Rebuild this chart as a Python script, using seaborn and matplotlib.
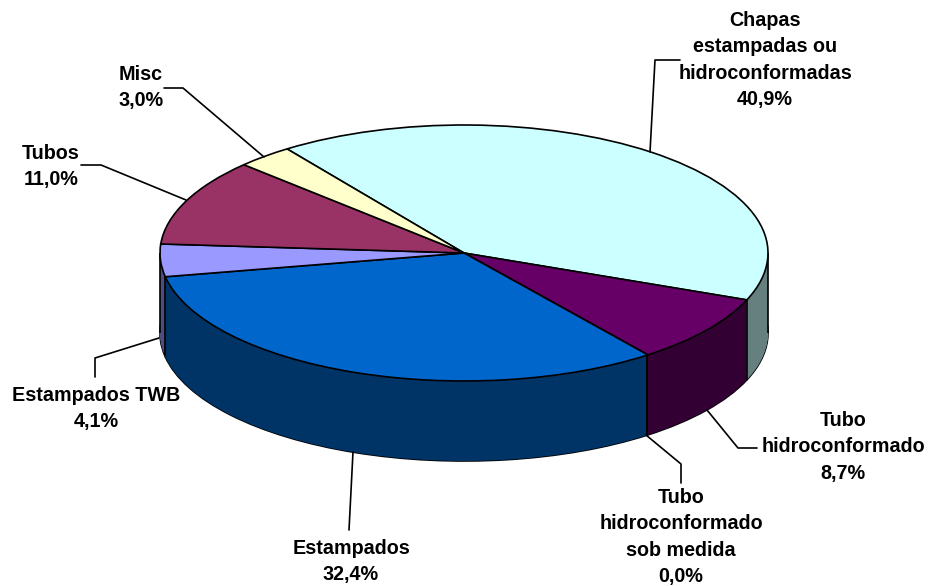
import numpy as np
import matplotlib
matplotlib.use("Agg")
import matplotlib.pyplot as plt
import seaborn as sns

# ---- data ----
categories = ["Chapas\nestampadas ou\nhidroconformadas", "Tubo\nhidroconformado",
              "Tubo\nhidroconformado\nsob medida", "Estampados",
              "Estampados TWB", "Tubos", "Misc"]
values = [40.9, 8.7, 0.0, 32.4, 4.1, 11.0, 3.0]
top_hex = ["#CCFFFF", "#660066", "#0066CC", "#0066CC", "#9999FF", "#993366", "#FFFFCC"]
side_hex = ["#668080", "#330033", "#003366", "#003366", "#4D4D80", "#4D1A33", "#808066"]

# label centres (px, first-line y and x), leader polylines (px)
label_xy = [(765, 19), (843, 419), (681, 496), (351, 547), (96, 394), (51, 152), (141, 73)]
leaders = [
    [(680, 60), (655, 60), (650, 152)],
    [(757, 448), (738, 448), (707, 410)],
    [(681, 483), (681, 464), (646, 435)],
    [(349, 530), (353, 452)],
    [(95, 377), (95, 358), (159, 338)],
    [(81, 165), (101, 165), (186, 200)],
    [(164, 88), (183, 88), (264, 157)],
]

W, H = 929, 586
CX, CY, RX, RY, DEPTH = 464, 253, 304, 128, 80
START = 125.6
LW = 1.2

sns.set_theme(style="white")
plt.rcParams["font.family"] = ["Liberation Sans", "DejaVu Sans"]

top_cols = sns.color_palette(top_hex)
side_cols = sns.color_palette(side_hex)

fig, ax = plt.subplots(figsize=(W / 100, H / 100), dpi=100)
ax.set_position([0, 0, 1, 1])


def px(x, y):
    return (x - CX) / RX, (CY - y) / RY


depth = DEPTH / RY
# extruded body: bottom outline first, then stacked layers, then top face
ax.pie(values, colors=side_cols, startangle=START, counterclock=False,
       center=(0, -depth), wedgeprops=dict(edgecolor="black", linewidth=LW))
for d in np.linspace(depth, 0, DEPTH, endpoint=False):
    ax.pie(values, colors=side_cols, startangle=START, counterclock=False,
           center=(0, -d), wedgeprops=dict(linewidth=0))

# vertical edges on the front of the body
bounds = START - np.cumsum([0] + values) * 3.6
front = [np.deg2rad(a) for a in bounds if np.sin(np.deg2rad(a)) < 0]
for a in front + [0.0, np.pi]:
    x = np.cos(a)
    y = np.sin(a)
    if y <= 1e-9:
        ax.plot([x, x], [y, y - depth], color="black", lw=LW, solid_capstyle="butt", zorder=2)

ax.pie(values, colors=top_cols, startangle=START, counterclock=False,
       wedgeprops=dict(edgecolor="black", linewidth=LW, zorder=3))

# labels and leader lines
for cat, val, (lx, ly), line in zip(categories, values, label_xy, leaders):
    pts = np.array([px(*p) for p in line])
    ax.plot(pts[:, 0], pts[:, 1], color="black", lw=LW, zorder=4)
    txt = f"{cat}\n{val:.1f}%".replace(".", ",")
    x0, y0 = px(lx, ly - 8)
    ax.text(x0, y0, txt, ha="center", va="top", fontsize=14.2, fontweight="bold",
            color="black", linespacing=1.49, zorder=5)

ax.set_aspect("auto")
ax.set_xlim(-CX / RX, (W - CX) / RX)
ax.set_ylim((CY - H) / RY, CY / RY)
fig.savefig("out.png", dpi=100, facecolor="white")
